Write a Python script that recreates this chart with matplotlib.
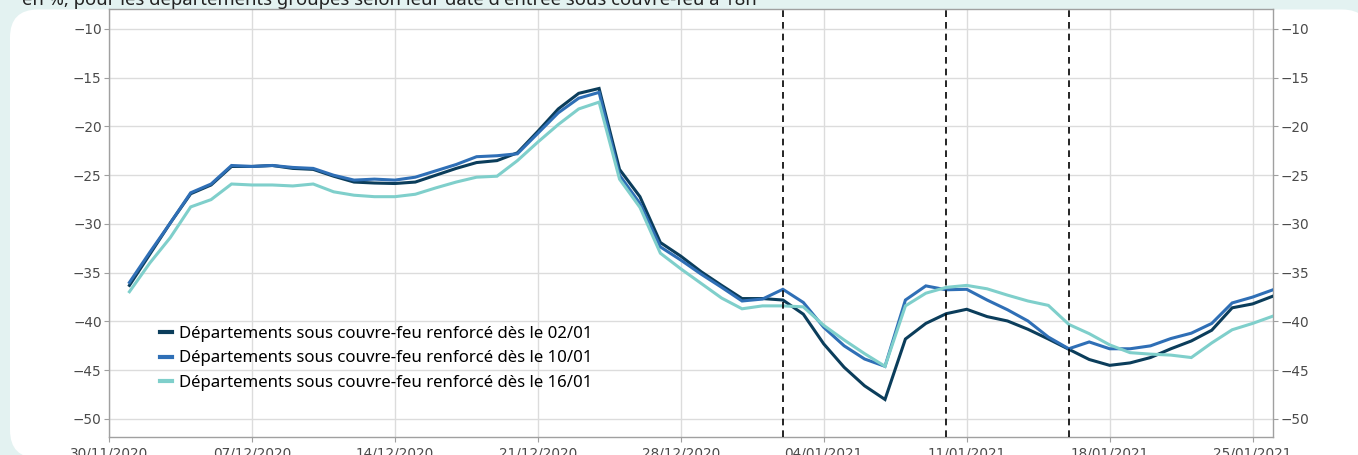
import matplotlib
matplotlib.use("Agg")
import matplotlib.pyplot as plt
import matplotlib.dates as mdates
from matplotlib.patches import FancyBboxPatch
from matplotlib.transforms import IdentityTransform
import datetime as dt

# ---------------- data ----------------
n_days = 57
dates = [dt.date(2020, 12, 1) + dt.timedelta(days=i) for i in range(n_days)]

serie_0201 = [-36.3, -33.1, -29.9, -26.9, -26.0, -24.1, -24.1, -24.0, -24.3, -24.4,
              -25.1, -25.7, -25.8, -25.85, -25.7, -25.0, -24.3, -23.7, -23.5, -22.7,
              -20.5, -18.2, -16.6, -16.1, -24.4, -27.2, -31.9, -33.3, -34.9, -36.3,
              -37.65, -37.65, -37.8, -39.25, -42.3, -44.7, -46.6, -48.0, -41.8, -40.2,
              -39.2, -38.75, -39.5, -39.95, -40.8, -41.8, -42.85, -43.9, -44.5, -44.25,
              -43.7, -42.8, -42.0, -40.9, -38.6, -38.2, -37.4]
serie_1001 = [-36.0, -32.9, -29.9, -26.8, -25.9, -24.0, -24.1, -24.0, -24.2, -24.3,
              -25.0, -25.5, -25.4, -25.5, -25.2, -24.55, -23.9, -23.1, -23.0, -22.8,
              -20.7, -18.6, -17.1, -16.5, -25.0, -27.9, -32.35, -33.7, -35.15, -36.5,
              -37.9, -37.7, -36.7, -38.05, -40.6, -42.5, -43.85, -44.6, -37.8, -36.35,
              -36.75, -36.7, -37.8, -38.8, -39.95, -41.6, -42.8, -42.1, -42.8, -42.8,
              -42.5, -41.75, -41.2, -40.2, -38.1, -37.5, -36.75]
serie_1601 = [-36.95, -34.0, -31.4, -28.25, -27.5, -25.9, -26.0, -26.0, -26.1, -25.9,
              -26.7, -27.05, -27.2, -27.2, -26.95, -26.3, -25.7, -25.2, -25.1, -23.5,
              -21.6, -19.8, -18.2, -17.5, -25.4, -28.3, -33.0, -34.6, -36.1, -37.6,
              -38.7, -38.4, -38.4, -38.5, -40.4, -41.9, -43.3, -44.6, -38.4, -37.1,
              -36.5, -36.3, -36.65, -37.3, -37.9, -38.35, -40.3, -41.25, -42.4, -43.2,
              -43.35, -43.45, -43.7, -42.2, -40.85, -40.2, -39.45]

series_labels = ["Départements sous couvre-feu renforcé dès le 02/01",
                 "Départements sous couvre-feu renforcé dès le 10/01",
                 "Départements sous couvre-feu renforcé dès le 16/01"]
series_colors = ["#0b3d5b", "#2f6fb6", "#7fcfcb"]

event_dates = [dt.date(2021, 1, 2), dt.date(2021, 1, 10), dt.date(2021, 1, 16)]
xtick_dates = [dt.date(2020, 11, 30) + dt.timedelta(days=7 * i) for i in range(9)]
ytick_values = [-10, -15, -20, -25, -30, -35, -40, -45, -50]
subtitle = "en %, pour les départements groupés selon leur date d'entrée sous couvre-feu à 18h"

# ---------------- figure ----------------
W, H = 1358, 455
fig = plt.figure(figsize=(W / 100, H / 100), dpi=100)
fig.patch.set_facecolor("#e3f2f1")

panel = FancyBboxPatch((10, -3), 1360, 448.5,
                       boxstyle="round,pad=0,rounding_size=28",
                       transform=IdentityTransform(), facecolor="white",
                       edgecolor="none", zorder=-5)
fig.patches.append(panel)

fig.text(22 / W, 1 - 5 / H, subtitle, fontsize=13.3, family=["Noto Sans", "DejaVu Sans"],
         color="#222222", va="baseline", ha="left", zorder=5)

AX_W = 1273 - 109
AX_H = 437 - 9.3
ax = fig.add_axes([109 / W, 18 / H, AX_W / W, AX_H / H])
ax.set_zorder(2)
ax.set_facecolor("white")

for vals, lab, col in zip([serie_0201, serie_1001, serie_1601], series_labels, series_colors):
    ax.plot(dates, vals, color=col, lw=2.2, label=lab, solid_joinstyle="miter", zorder=3)

for d in event_dates:
    ax.axvline(d, color="black", lw=1.2, ls=(0, (4, 3)), zorder=4)

ax.set_xlim(dt.date(2020, 11, 30), dt.date(2021, 1, 26))
ax.set_ylim(-51.85, -7.98)
ax.set_xticks(xtick_dates)
ax.xaxis.set_major_formatter(mdates.DateFormatter("%d/%m/%Y"))
ax.set_yticks(ytick_values)
ax.set_yticklabels([("\u2212%d" % abs(v)) for v in ytick_values])

ax.grid(True, color="#dcdcdc", lw=1.0, zorder=0)
ax.set_axisbelow(True)
for s in ax.spines.values():
    s.set_color("#a0a0a0")
    s.set_linewidth(1.0)

tick_font = ["Liberation Sans Narrow", "DejaVu Sans"]
ax.tick_params(axis="both", colors="#a0a0a0", labelcolor="#4a4a4a", length=3.6, width=0.8,
               labelsize=9.8)
ax.tick_params(axis="y", right=True, labelright=True, pad=1.6)
ax.tick_params(axis="x", pad=3)
for lbl in ax.get_xticklabels() + ax.get_yticklabels():
    lbl.set_family(tick_font)
for t in ax.yaxis.get_major_ticks():
    t.label2.set_family(tick_font)

leg = ax.legend(loc="lower left", bbox_to_anchor=(36 / AX_W, 31 / AX_H),
                frameon=False, handlelength=0.72, handletextpad=0.4, labelspacing=0.5,
                prop={"family": ["Noto Sans", "DejaVu Sans"], "size": 12.1})
for line in leg.get_lines():
    line.set_linewidth(3.0)

fig.savefig("out.png", dpi=100, facecolor=fig.get_facecolor())
